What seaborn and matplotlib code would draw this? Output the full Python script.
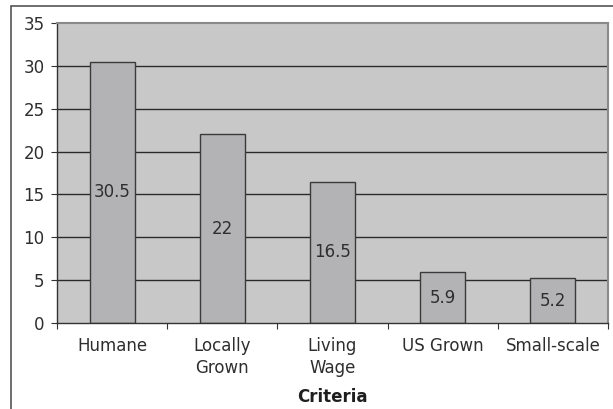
import matplotlib
matplotlib.use("Agg")
import matplotlib.pyplot as plt
import seaborn as sns
import pandas as pd
from matplotlib.patches import Rectangle
from matplotlib.ticker import FixedLocator

categories = ["Humane", "Locally\nGrown", "Living\nWage", "US Grown", "Small-scale"]
values = [30.5, 22, 16.5, 5.9, 5.2]
value_labels = ["30.5", "22", "16.5", "5.9", "5.2"]
y_ticks = [0, 5, 10, 15, 20, 25, 30, 35]

sns.set_theme(style="white")
plt.rcParams["font.family"] = ["DejaVu Sans"]

df = pd.DataFrame({"Criteria": categories, "Value": values})

fig = plt.figure(figsize=(6.13, 4.09), dpi=100)
fig.patch.set_facecolor("white")
ax = fig.add_axes([57/613, 1 - 323/409, (608-57)/613, (323-23)/409])
ax.set_facecolor("#C8C8C8")

sns.barplot(data=df, x="Criteria", y="Value", color="#B3B3B5", saturation=1,
            width=0.41, edgecolor="#3A3A3A", linewidth=1.0, ax=ax, zorder=3)

ax.set_ylim(0, 35)
ax.set_xlim(-0.5, len(categories) - 0.5)
ax.set_yticks(y_ticks)
ax.set_yticklabels([str(t) for t in y_ticks])
for t in y_ticks[1:-1]:
    ax.axhline(t, color="#2A2A2A", lw=1.0, zorder=1)

for i, (v, lab) in enumerate(zip(values, value_labels)):
    ax.text(i, v / 2, lab, ha="center", va="center", fontsize=12,
            color="#2E2E2E", zorder=5)

ax.tick_params(axis="y", which="major", direction="out", length=4, width=0.8,
               color="#333333", labelsize=12, labelcolor="#2E2E2E", pad=5, left=True)
ax.xaxis.set_minor_locator(FixedLocator([i - 0.5 for i in range(len(categories) + 1)]))
ax.tick_params(axis="x", which="major", length=0, labelsize=12, labelcolor="#2E2E2E", pad=10)
ax.tick_params(axis="x", which="minor", direction="out", length=4, width=0.8,
               color="#333333", bottom=True)
for lbl in ax.get_xticklabels():
    lbl.set_linespacing(1.3)

ax.set_ylabel("")
ax.set_xlabel("Criteria", fontsize=12, fontweight="bold", color="#1E1E1E", labelpad=8)

for side in ["left", "bottom"]:
    ax.spines[side].set_color("#333333")
    ax.spines[side].set_linewidth(1.0)
for side in ["top", "right"]:
    ax.spines[side].set_color("#8A8A8A")
    ax.spines[side].set_linewidth(1.5)
for s in ax.spines.values():
    s.set_visible(True)
    s.set_zorder(4)

fig.patches.append(Rectangle((11/613, -0.1), 1.2, 1 - 6/409 + 0.1,
                             transform=fig.transFigure, fill=False,
                             edgecolor="#555555", lw=1.2, clip_on=False))

fig.savefig("out.png", dpi=100)
